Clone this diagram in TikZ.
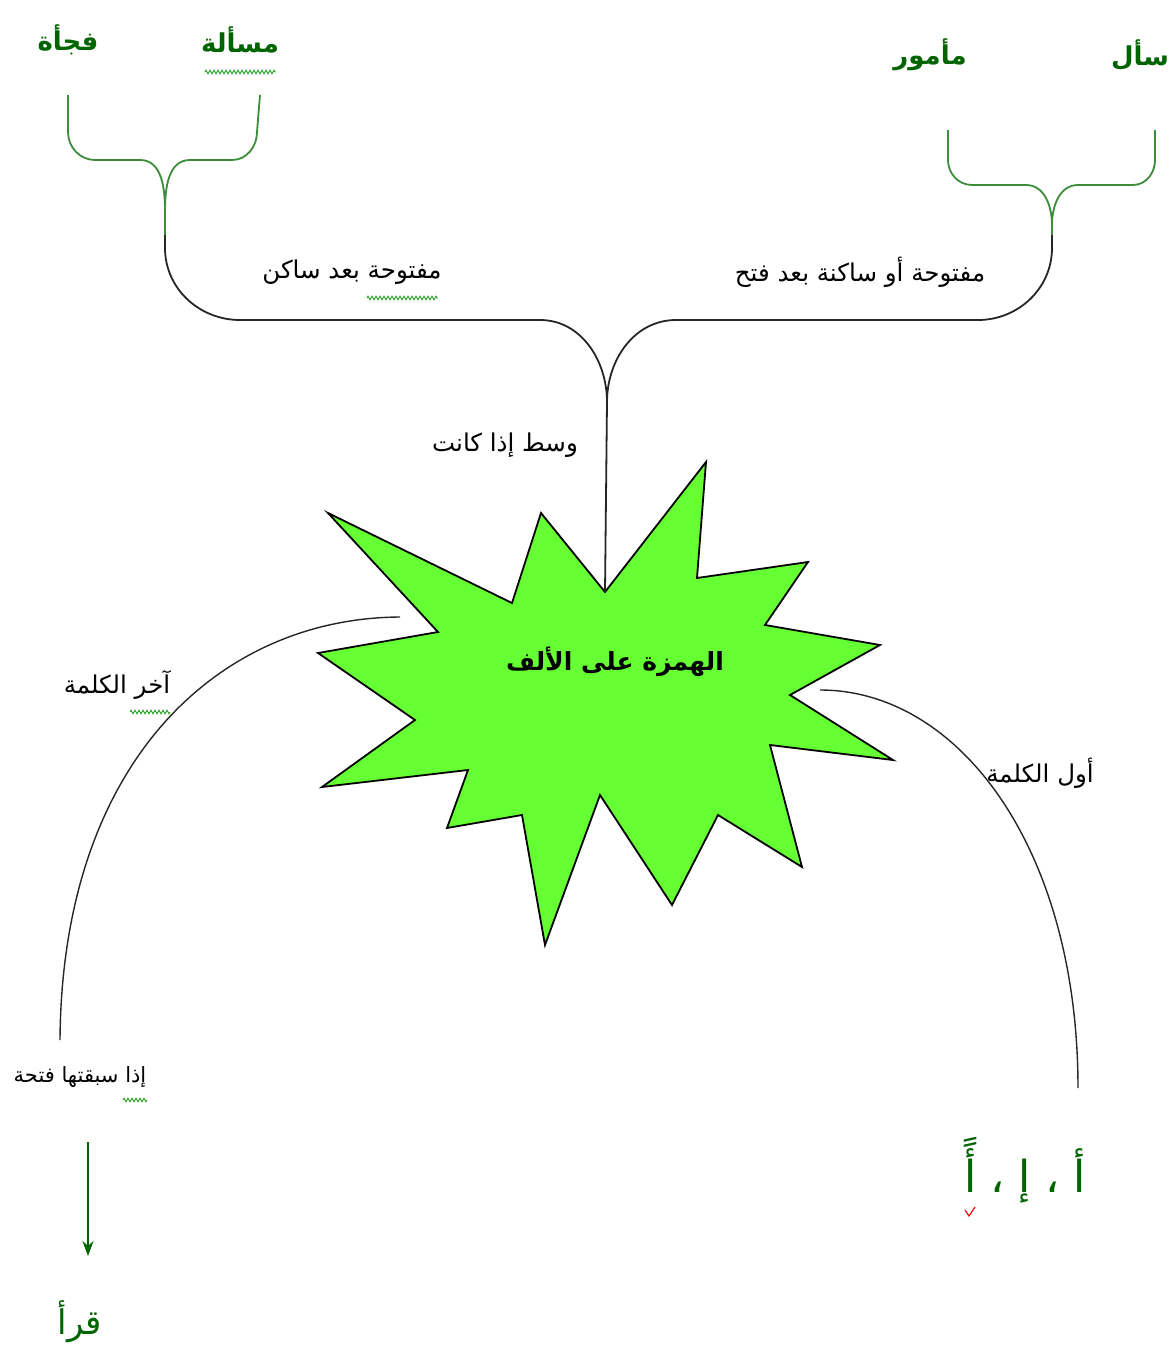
\documentclass[tikz,border=0pt]{standalone}
\usepackage{fontspec}
\usetikzlibrary{arrows.meta,decorations.pathmorphing}
\newfontfamily\ar[Script=Arabic]{DejaVu Sans}
\TeXXeTstate=1
\definecolor{stargreen}{RGB}{102,255,51}
\definecolor{txtgreen}{RGB}{0,100,0}
\definecolor{bracegreen}{RGB}{60,140,60}
\definecolor{squig}{RGB}{40,160,40}
\tikzset{
  lbl/.style={inner sep=0pt, font=\ar\fontsize{24.5}{29}\selectfont},
  wordg/.style={inner sep=0pt, text=txtgreen, font=\ar\bfseries\fontsize{26}{32}\selectfont},
  gbrace/.style={draw=bracegreen, line width=1.8pt},
  bbrace/.style={draw=black!85, line width=1.8pt},
  arcline/.style={draw=black!85, line width=1.4pt},
  wavy/.style={draw=squig, line width=0.9pt, decorate, decoration={zigzag, segment length=4pt, amplitude=1.8pt}},
}
\begin{document}
\begin{tikzpicture}[x=1pt,y=-1pt]
\useasboundingbox (0,0) rectangle (1173,1355);

% star
\path[draw=black, line width=1.8pt, fill=stargreen, line join=miter]
  (328,513) -- (512,603) -- (541,513) -- (605,592) -- (706,462) -- (697,578)
  -- (808,562) -- (765,625) -- (880,645) -- (790,695) -- (893,760) -- (770,745)
  -- (802,867) -- (718,815) -- (672,905) -- (600,795) -- (545,945) -- (522,815)
  -- (447,828) -- (468,770) -- (322,787) -- (415,720) -- (318,653) -- (438,632) -- cycle;
\node[inner sep=0pt, font=\ar\bfseries\fontsize{25}{30}\selectfont] (title) at (615,662) {\beginR الهمزة على الألف\endR};

% coordinates
\coordinate (lt) at (165,235);
\coordinate (rt) at (1052,235);
\coordinate (mid) at (607,402);
\coordinate (starTop) at (605,592);
\coordinate (la) at (400,617);
\coordinate (lb) at (60,1040);
\coordinate (ra) at (820,690);
\coordinate (rb) at (1078,1088);

% top words
\node[wordg] (w1) at (68,40) {\beginR فجأة\endR};
\node[wordg] (w2) at (240,40) {\beginR مسألة\endR};
\node[wordg] (w3) at (930,55) {\beginR مأمور\endR};
\node[wordg] (w4) at (1140,55) {\beginR سأل\endR};

% green braces
\path[gbrace] (68,95) -- (68,132) to[out=-90,in=180] (95,160) -- (140,160) to[out=0,in=90] (165,212) -- (lt);
\path[gbrace] (260,95) -- (257,132) to[out=-90,in=0] (232,160) -- (190,160) to[out=180,in=90] (165,212);
\path[gbrace] (948,130) -- (948,160) to[out=-90,in=180] (972,185) -- (1026,185) to[out=0,in=90] (1052,225) -- (rt);
\path[gbrace] (1155,130) -- (1155,160) to[out=-90,in=0] (1133,185) -- (1078,185) to[out=180,in=90] (1052,225);

% black brace
\path[bbrace] (lt) -- (165,248) to[out=-90,in=180] (240,320) -- (540,320) to[out=0,in=90] (mid);
\path[bbrace] (rt) -- (1052,248) to[out=-90,in=0] (978,320) -- (676,320) to[out=180,in=90] (mid);
\path[bbrace] (mid) -- (starTop);

% labels
\node[lbl] (l1) at (352,272) {\beginR مفتوحة بعد ساكن\endR};
\node[lbl] (l2) at (860,272) {\beginR مفتوحة أو ساكنة بعد فتح\endR};
\node[lbl] (l3) at (505,445) {\beginR وسط إذا كانت\endR};
\node[lbl] (l4) at (117,685) {\beginR آخر الكلمة\endR};
\node[lbl] (l5) at (1040,773) {\beginR أول الكلمة\endR};
\node[lbl, font=\ar\fontsize{21}{25}\selectfont] (l6) at (80,1077) {\beginR إذا سبقتها فتحة\endR};

% arcs
\path[arcline] (la) .. controls (220,618) and (62,760) .. (lb);
\path[arcline] (ra) .. controls (960,690) and (1078,850) .. (rb);

% arrow
\coordinate (arA) at (88,1142);
\coordinate (arB) at (88,1256);
\draw[draw=txtgreen, line width=1.6pt, -{Stealth[length=15pt,width=11pt]}] (arA) -- (arB);

% results
\node[inner sep=0pt, text=txtgreen, font=\ar\fontsize{44}{52}\selectfont] (res1) at (1025,1170) {\beginR أ ، إ ، أً\endR};
\node[inner sep=0pt, text=txtgreen, font=\ar\fontsize{34}{40}\selectfont] (res2) at (80,1322) {\beginR قرأ\endR};

% spell-check squiggles
\path[wavy] (205,72) -- (276,72);
\path[wavy] (367,298) -- (438,298);
\path[wavy] (130,712) -- (170,712);
\path[wavy] (123,1100) -- (147,1100);
\path[draw=red, line width=1.2pt] (965,1210) -- (969,1216) -- (975,1207);
\end{tikzpicture}
\end{document}
